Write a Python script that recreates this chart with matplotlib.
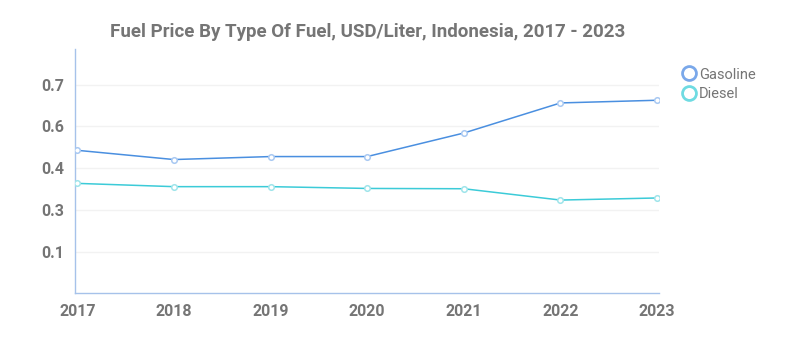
import matplotlib.pyplot as plt
from matplotlib.lines import Line2D

years = ['2017', '2018', '2019', '2020', '2021', '2022', '2023']
gasoline = [0.48, 0.449, 0.459, 0.459, 0.538, 0.639, 0.648]
diesel = [0.369, 0.358, 0.358, 0.352, 0.351, 0.313, 0.320]
ytick_vals = [0.14, 0.28, 0.42, 0.56, 0.70]
ytick_labels = ['0.1', '0.3', '0.4', '0.6', '0.7']

text_col = '#757575'
plt.rcParams['font.family'] = ['Roboto', 'DejaVu Sans']

fig = plt.figure(figsize=(7.92, 3.38), dpi=100)
ax = fig.add_axes([0.0951, 0.1322, 0.7370, 0.7228])

x = list(range(len(years)))
ax.plot(x, gasoline, color='#4a8fe0', lw=1.1, marker='o', ms=4,
        mfc='white', mec='#a8c8f2', mew=1.1, zorder=3)
ax.plot(x, diesel, color='#3ccbd8', lw=1.1, marker='o', ms=4,
        mfc='white', mec='#9ee4ea', mew=1.1, zorder=3)

ax.set_xlim(-0.02, 6.02)
ax.set_ylim(0, 0.82)
ax.set_xticks(x)
ax.set_xticklabels(years)
ax.set_yticks(ytick_vals)
ax.set_yticklabels(ytick_labels)
ax.tick_params(length=0, labelsize=11.5, labelcolor=text_col, pad=8)
for lab in ax.get_xticklabels() + ax.get_yticklabels():
    lab.set_fontweight('bold')
ax.grid(axis='y', color='#f2f2f2', lw=1)
ax.set_axisbelow(True)
for s in ['top', 'right']:
    ax.spines[s].set_visible(False)
for s in ['left', 'bottom']:
    ax.spines[s].set_color('#a6c2ea')
    ax.spines[s].set_linewidth(1)

ax.set_title('Fuel Price By Type Of Fuel, USD/Liter, Indonesia, 2017 - 2023',
             fontsize=13.5, fontweight='bold', color=text_col, pad=9)

handles = [Line2D([], [], ls='none', marker='o', ms=10, mfc='none', mec='#7aa8ea', mew=2),
           Line2D([], [], ls='none', marker='o', ms=10, mfc='none', mec='#6fdbe2', mew=2)]
leg = fig.legend(handles, ['Gasoline', 'Diesel'], loc='upper left',
                 bbox_to_anchor=(0.862, 0.800), frameon=False, fontsize=10.5,
                 handlelength=0.8, handletextpad=0.3, labelspacing=0.35,
                 borderpad=0, borderaxespad=0)
for t in leg.get_texts():
    t.set_color(text_col)

fig.savefig('out.png', dpi=100)
